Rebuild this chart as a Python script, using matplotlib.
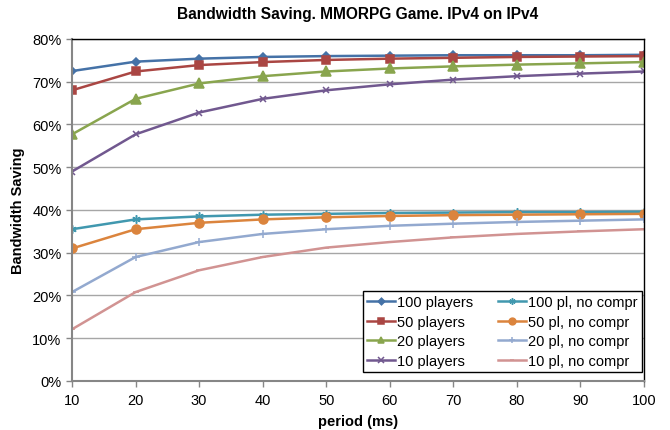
import matplotlib
matplotlib.use("Agg")
import matplotlib.pyplot as plt
from matplotlib.ticker import FuncFormatter

plt.rcParams['font.family'] = ['Liberation Sans', 'DejaVu Sans']

periods = [10, 20, 30, 40, 50, 60, 70, 80, 90, 100]
p100 = [72.5, 74.7, 75.4, 75.8, 76.0, 76.1, 76.2, 76.2, 76.2, 76.3]
p50 = [68.0, 72.4, 73.9, 74.6, 75.1, 75.4, 75.6, 75.8, 75.9, 76.0]
p20 = [57.7, 66.0, 69.6, 71.3, 72.4, 73.1, 73.6, 74.0, 74.3, 74.6]
p10 = [49.0, 57.7, 62.8, 66.0, 68.0, 69.4, 70.5, 71.3, 71.9, 72.4]
n100 = [35.5, 37.8, 38.5, 38.9, 39.1, 39.3, 39.4, 39.5, 39.5, 39.6]
n50 = [31.0, 35.5, 37.0, 37.8, 38.3, 38.6, 38.8, 38.9, 39.0, 39.1]
n20 = [20.8, 29.0, 32.5, 34.4, 35.5, 36.3, 36.8, 37.2, 37.5, 37.8]
n10 = [12.1, 20.8, 25.9, 29.0, 31.2, 32.5, 33.6, 34.4, 35.0, 35.5]

labels = ["100 players", "50 players", "20 players", "10 players",
          "100 pl, no compr", "50 pl, no compr", "20 pl, no compr", "10 pl, no compr"]
series = [p100, p50, p20, p10, n100, n50, n20, n10]
colors = ["#4572A7", "#AA4643", "#89A54E", "#71588F",
          "#4198AF", "#DB843D", "#93A9CF", "#D19392"]
markers = ["D", "s", "^", "x", (6, 2, 0), "o", "+", "_"]
msizes = [4.5, 6, 6.5, 5, 6, 6.5, 5.5, 4]

fig = plt.figure(figsize=(6.7, 4.31), dpi=100)
ax = fig.add_axes([0.1075, 0.1137, 0.8535, 0.7935])

for vals, lab, c, m, ms in zip(series, labels, colors, markers, msizes):
    ax.plot(periods, vals, color=c, marker=m, markersize=ms, lw=1.8,
            markeredgecolor=c, markerfacecolor=c, markeredgewidth=1.1, label=lab)

ax.set_xlim(10, 100)
ax.set_ylim(0, 80)
ax.set_xticks(periods)
ax.set_yticks(range(0, 81, 10))
ax.yaxis.set_major_formatter(FuncFormatter(lambda v, p: f"{int(v)}%"))
ax.grid(axis='y', color='#A6A6A6', lw=1)
ax.set_axisbelow(True)
for s in ['top', 'right']:
    ax.spines[s].set_color('black')
    ax.spines[s].set_linewidth(1)
for s in ['left', 'bottom']:
    ax.spines[s].set_color('#868686')
    ax.spines[s].set_linewidth(1.5)
ax.tick_params(axis='both', colors='#868686', labelcolor='black', labelsize=10.5,
               direction='out', length=4, width=1)
ax.tick_params(axis='x', pad=5)

ax.set_title("Bandwidth Saving. MMORPG Game. IPv4 on IPv4", fontsize=11.2,
             fontweight='bold', pad=15)
ax.set_ylabel("Bandwidth Saving", fontsize=10.5, fontweight='bold', labelpad=5)
ax.set_xlabel("period (ms)", fontsize=10.5, fontweight='bold', labelpad=5)

leg = ax.legend(ncol=2, loc='lower right', bbox_to_anchor=(0.9965, 0.026),
                borderaxespad=0,
                fontsize=10.5, frameon=True, fancybox=False, edgecolor='black',
                framealpha=1, handlelength=1.9, handletextpad=0.15,
                columnspacing=1.7, labelspacing=0.38, borderpad=0.3,
                markerscale=0.75)
leg.get_frame().set_linewidth(1)

fig.savefig("out.png", dpi=100)
